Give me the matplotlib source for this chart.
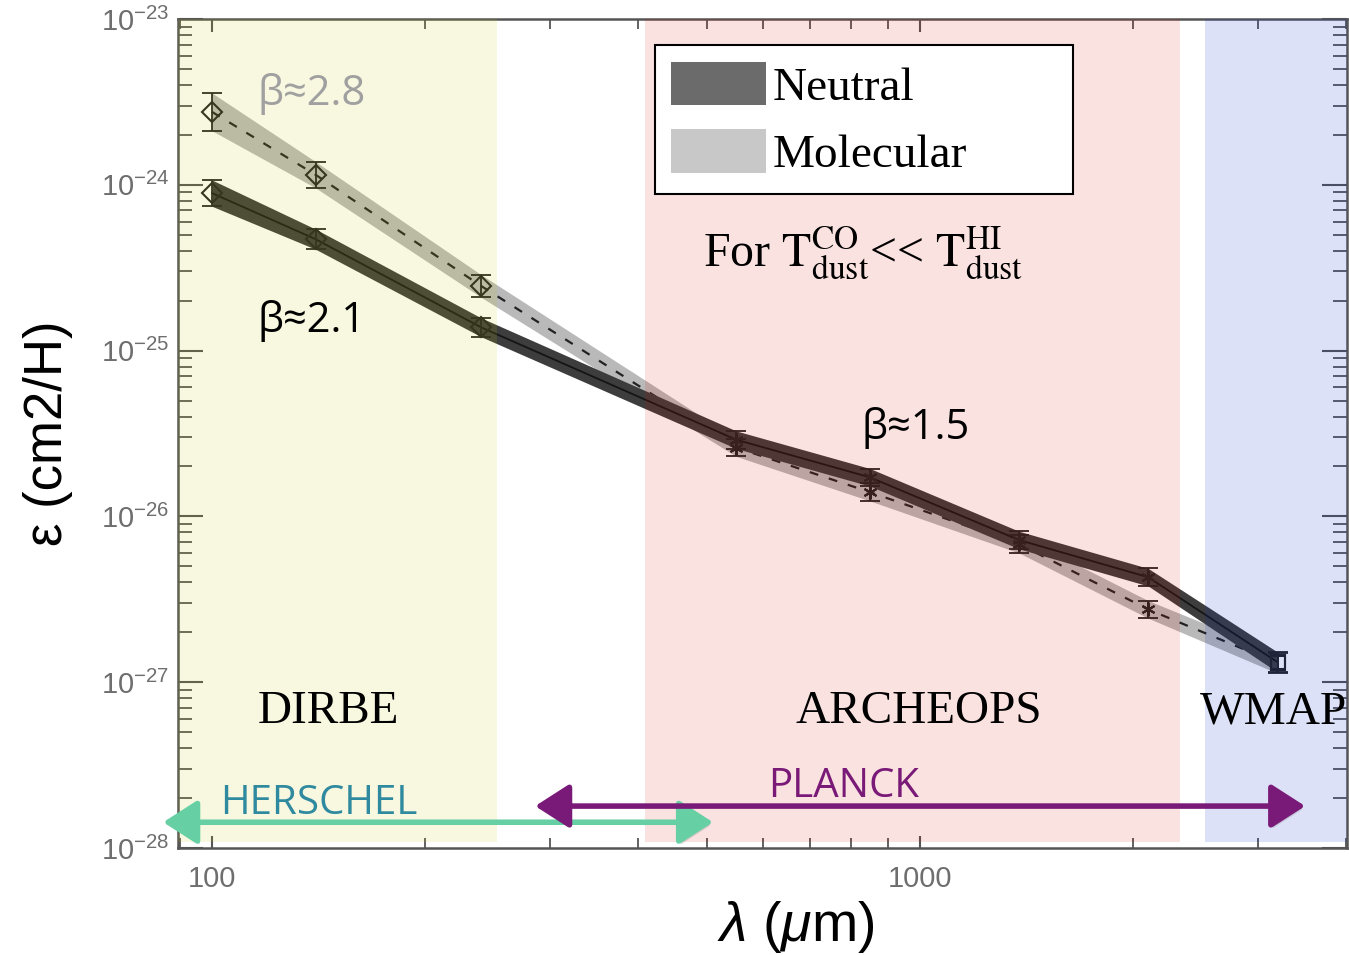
import matplotlib
matplotlib.use("Agg")
import matplotlib.pyplot as plt
import matplotlib.patheffects as pe
from matplotlib.patches import Patch
from matplotlib.ticker import LogLocator, NullFormatter, FixedLocator, FixedFormatter

# ---------------- data ----------------
wavelength = [100, 140, 240, 550, 850, 1380, 2100, 3200]
neutral = [8.9e-25, 4.7e-25, 1.38e-25, 2.9e-26, 1.72e-26, 7.2e-27, 4.3e-27, 1.32e-27]
molecular = [2.75e-24, 1.15e-24, 2.45e-25, 2.6e-26, 1.4e-26, 6.8e-27, 2.75e-27, 1.3e-27]
neutral_err = [0.20, 0.15, 0.14, 0.13, 0.13, 0.13, 0.13, 0.15]
molecular_err = [0.30, 0.20, 0.17, 0.13, 0.13, 0.13, 0.13, 0.15]
point_marker = ["D", "D", "D", (6, 2, 0), (6, 2, 0), (6, 2, 0), (6, 2, 0), "s"]

region_names = ["DIRBE", "ARCHEOPS", "WMAP"]
region_lo = [89.5, 409, 2527]
region_hi = [253, 2328, 4010]
region_colors = [(0.80, 0.80, 0.02, 0.12), (0.84, 0.07, 0.0, 0.12), (0.05, 0.19, 0.78, 0.14)]

arrow_names = ["HERSCHEL", "PLANCK"]
arrow_lo = [85.3, 286]
arrow_hi = [510, 3500]
arrow_y = [1.43e-28, 1.79e-28]
arrow_colors = ["#66cfa3", "#7a1a78"]
arrow_text_color = ["#2f8aa0", "#7a1a78"]
arrow_text_x = [102.6, 610]
arrow_text_y = [1.60e-28, 2.03e-28]

legend_labels = ["Neutral", "Molecular"]
legend_colors = ["#6b6b6b", "#c8c8c8"]

x_ticks = [100, 1000]
x_ticklabels = ["100", "1000"]
y_ticks = [1e-28, 1e-27, 1e-26, 1e-25, 1e-24, 1e-23]

# ---------------- style ----------------
plt.rcParams["font.family"] = ["Liberation Sans", "DejaVu Sans"]
plt.rcParams["mathtext.fontset"] = "custom"
plt.rcParams["mathtext.rm"] = "Liberation Sans"
plt.rcParams["mathtext.it"] = "Liberation Sans:italic"
plt.rcParams["mathtext.bf"] = "Liberation Sans:bold"

fig = plt.figure(figsize=(13.49, 9.55), dpi=100)
ax = fig.add_axes([178 / 1349, 1 - 848 / 955, (1347 - 178) / 1349, (848 - 19) / 955])
ax.set_xscale("log")
ax.set_yscale("log")
ax.set_xlim(89.5, 4010)
ax.set_ylim(1e-28, 1e-23)

# bands
mol_lo = [v / (1 + e) for v, e in zip(molecular, molecular_err)]
mol_hi = [v * (1 + e) for v, e in zip(molecular, molecular_err)]
neu_lo = [v / (1 + e) for v, e in zip(neutral, neutral_err)]
neu_hi = [v * (1 + e) for v, e in zip(neutral, neutral_err)]
ax.fill_between(wavelength, mol_lo, mol_hi, color="#b9b9b9", lw=0, zorder=1.5)
ax.plot(wavelength, molecular, ls=(0, (4, 5)), color="#222222", lw=1.6, zorder=1.6)
ax.fill_between(wavelength, neu_lo, neu_hi, color="#3d3d3d", lw=0, zorder=1.7)
ax.plot(wavelength, neutral, ls="-", color="#151515", lw=1.3, zorder=1.8)

for series, err in ((molecular, molecular_err), (neutral, neutral_err)):
    for x, v, e, m in zip(wavelength, series, err, point_marker):
        ax.errorbar([x], [v], yerr=[[v - v / (1 + e)], [v * e]], fmt="none",
                    ecolor="#222222", elinewidth=1.3, capsize=7, capthick=1.3, zorder=1.9)
        ax.plot([x], [v], marker=m, ms=10, mfc="none", mec="#222222", mew=1.5, zorder=1.95)

# coloured instrument regions (semi transparent overlays)
for lo, hi, c in zip(region_lo, region_hi, region_colors):
    ax.axvspan(lo, hi, ymin=0.007, ymax=1.0, color=c, lw=0, zorder=3)

# ticks / spines
for s in ax.spines.values():
    s.set_color("#555555")
    s.set_linewidth(1.8)
ax.xaxis.set_major_locator(FixedLocator(x_ticks))
ax.xaxis.set_major_formatter(FixedFormatter(x_ticklabels))
ax.xaxis.set_minor_locator(LogLocator(base=10, subs=range(2, 10)))
ax.xaxis.set_minor_formatter(NullFormatter())
ax.yaxis.set_major_locator(FixedLocator(y_ticks))
ax.yaxis.set_minor_locator(LogLocator(base=10, subs=range(2, 10), numticks=20))
ax.yaxis.set_minor_formatter(NullFormatter())
ax.tick_params(axis="both", which="both", direction="in", top=True, right=True,
               color="#555555", labelcolor="#6e6e6e", labelsize=21)
ax.tick_params(axis="x", which="major", length=9, width=1.5, pad=12)
ax.tick_params(axis="x", which="minor", length=7, width=1.3)
ax.tick_params(axis="y", which="major", length=18, width=1.5, pad=6)
ax.tick_params(axis="y", which="minor", length=10, width=1.3)

ax.set_ylabel("ε (cm2/H)", fontsize=38, color="black")
ax.yaxis.set_label_coords(-0.090, 0.50)
ax.set_xlabel(r"$\lambda\ (\mu$m)", fontsize=40, color="black")
ax.xaxis.set_label_coords(0.528, -0.062)

# annotations
beta_font = ["Open Sans", "DejaVu Sans"]
ax.text(116, 3.03e-24, "β≈2.8", fontsize=30, color="#a0a0a0", family=beta_font, zorder=6)
ax.text(116, 1.29e-25, "β≈2.1", fontsize=30, color="black", family=beta_font, zorder=6)
ax.text(828, 2.91e-26, "β≈1.5", fontsize=30, color="black", family=beta_font, zorder=6)

serif = "Liberation Serif"
ax.text(116, 5.66e-28, "DIRBE", fontsize=34, family=serif, zorder=6)
ax.text(666, 5.66e-28, "ARCHEOPS", fontsize=34, family=serif, zorder=6)
ax.text(2486, 5.66e-28, "WMAP", fontsize=34, family=serif, zorder=6)
ax.text(494, 3.16e-25,
        r"For $\mathrm{T}^{\mathrm{CO}}_{\mathrm{dust}}$<< $\mathrm{T}^{\mathrm{HI}}_{\mathrm{dust}}$",
        fontsize=34.5, family=serif, math_fontfamily="stix", zorder=6)

for name, lo, hi, y, c, tc, tx, ty in zip(arrow_names, arrow_lo, arrow_hi, arrow_y,
                                          arrow_colors, arrow_text_color, arrow_text_x, arrow_text_y):
    an = ax.annotate("", xy=(hi, y), xytext=(lo, y), annotation_clip=False,
                     arrowprops=dict(arrowstyle="<|-|>,head_length=0.7,head_width=0.45",
                                     color=c, lw=4.0, mutation_scale=30,
                                     shrinkA=0, shrinkB=0), zorder=6)
    an.arrow_patch.set_path_effects([pe.SimplePatchShadow(offset=(1.5, -2.5), shadow_rgbFace="#999999", alpha=0.35), pe.Normal()])
    ax.text(tx, ty, name, fontsize=29, color=tc, family=beta_font, zorder=6)

handles = [Patch(facecolor=c, edgecolor="none") for c in legend_colors]
leg = ax.legend(handles, legend_labels, loc="upper left",
                bbox_to_anchor=(0.408, 0.785, 0.3576, 0.1836), mode="expand", borderaxespad=0,
                prop={"family": serif, "size": 34}, handlelength=2.0, handleheight=1.05,
                handletextpad=0.15, labelspacing=0.42, borderpad=0.35,
                fancybox=False, framealpha=1, edgecolor="black")
leg.get_frame().set_linewidth(1.5)
leg.set_zorder(7)

fig.savefig("out.png", dpi=100)
